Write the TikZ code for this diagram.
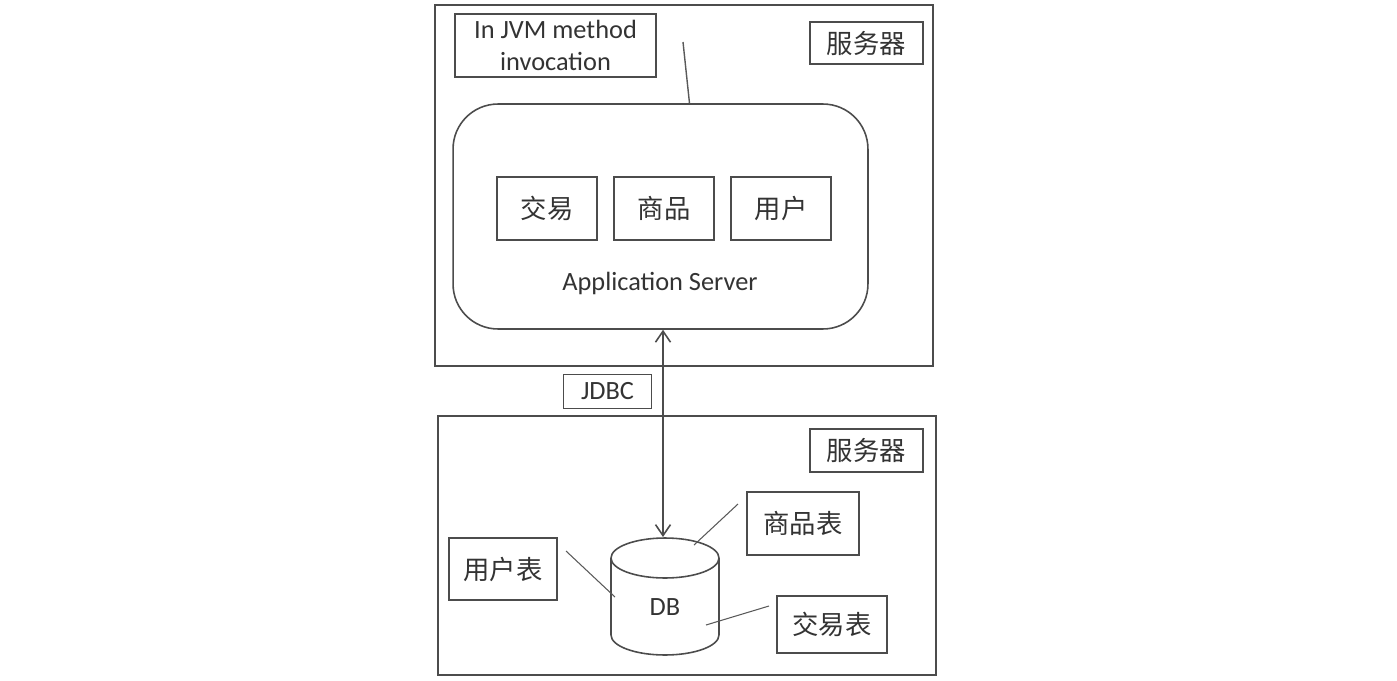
\documentclass[tikz,border=0pt]{standalone}
\usepackage{fontspec}
\setmainfont{Carlito}
\newfontfamily\cjk{Noto Sans CJK SC}
\usetikzlibrary{arrows.meta}

\tikzset{
	frame/.style={draw=black!70, line width=0.9pt, inner sep=0pt},
	tagbox/.style={draw=black!70, line width=0.9pt, inner sep=0pt, text=black!80, font=\fontsize{15}{18}\selectfont},
	plain/.style={inner sep=0pt, text=black!80, font=\fontsize{15}{18}\selectfont},
	lead/.style={draw=black!65, line width=0.6pt}
}

\begin{document}
\begin{tikzpicture}[x=0.02cm, y=-0.02cm]
		%%%%% START %%%%%
		\useasboundingbox (0, 0) rectangle (1397, 680);
		
		% upper server
		\node[frame, minimum width=9.96cm, minimum height=7.22cm] (srvtop) at (684, 185.5) {};
		\node[tagbox, minimum width=4.02cm, minimum height=1.26cm, align=center] (jvm) at (555.5, 45.5) {In JVM method\\invocation};
		\node[tagbox, minimum width=2.26cm, minimum height=0.84cm] (srvtag1) at (866.5, 43) {\cjk 服务器};
		
		\node[frame, rounded corners=0.9cm, minimum width=8.3cm, minimum height=4.5cm] (app) at (660.5, 216.5) {};
		\node[tagbox, minimum width=2cm, minimum height=1.26cm] (trade) at (547, 208.5) {\cjk 交易};
		\node[tagbox, minimum width=2cm, minimum height=1.26cm] (goods) at (664, 208.5) {\cjk 商品};
		\node[tagbox, minimum width=2cm, minimum height=1.26cm] (user) at (781, 208.5) {\cjk 用户};
		\node[plain] (appname) at (660, 283) {Application Server};
		
		\coordinate (jvmend) at (683, 42);
		\draw[lead, line width=0.8pt] (jvmend) -- ([xshift=0.58cm]app.north);
		
		% lower server
		\node[frame, minimum width=9.96cm, minimum height=5.18cm] (srvbot) at (687, 545.5) {};
		\node[tagbox, minimum width=2.26cm, minimum height=0.86cm] (srvtag2) at (866.5, 450.5) {\cjk 服务器};
		\node[tagbox, minimum width=1.76cm, minimum height=0.68cm] (jdbc) at (607.5, 391.5) {JDBC};
		
		% database
		\draw[draw=black!70, line width=0.9pt] (611, 558) -- (611, 635) arc (180:360:1.08cm and 0.4cm) -- (719, 558);
		\draw[draw=black!70, line width=0.9pt] (665, 558) ellipse [x radius=1.08cm, y radius=0.4cm];
		\node[plain] (db) at (665, 607) {DB};
		\coordinate (dbtop) at (663, 537);
		
		\draw[draw=black!70, line width=0.9pt, {Straight Barb[length=2.2mm, width=3mm]}-{Straight Barb[length=2.2mm, width=3mm]}] (app.south -| dbtop) -- (dbtop);
		
		% tables
		\node[tagbox, minimum width=2.16cm, minimum height=1.24cm] (usertab) at (503, 569) {\cjk 用户表};
		\node[tagbox, minimum width=2.24cm, minimum height=1.26cm] (goodstab) at (803, 523.5) {\cjk 商品表};
		\node[tagbox, minimum width=2.2cm, minimum height=1.14cm] (tradetab) at (832, 624.5) {\cjk 交易表};
		
		\coordinate (userend) at (566, 551);
		\coordinate (usermark) at (615, 597);
		\coordinate (goodsend) at (738, 504);
		\coordinate (goodsmark) at (694, 545);
		\coordinate (tradeend) at (769, 606);
		\coordinate (trademark) at (706, 625);
		\draw[lead] (userend) -- (usermark);
		\draw[lead] (goodsend) -- (goodsmark);
		\draw[lead] (tradeend) -- (trademark);
		%%%%% END %%%%%
\end{tikzpicture}
\end{document}
